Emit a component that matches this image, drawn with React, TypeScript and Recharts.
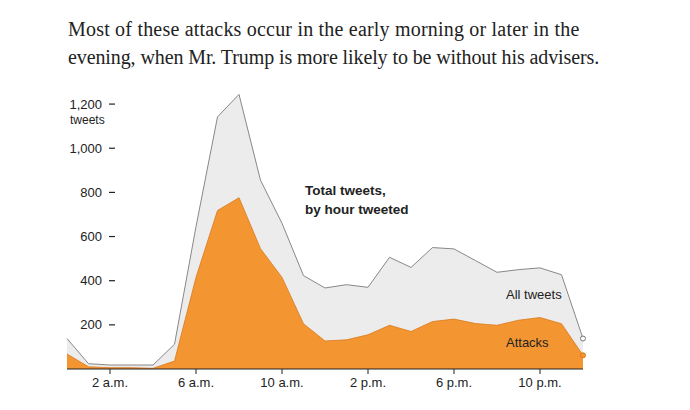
import { AreaChart, Area, XAxis, YAxis } from "recharts";

const hours = [0, 1, 2, 3, 4, 5, 6, 7, 8, 9, 10, 11, 12, 13, 14, 15, 16, 17, 18, 19, 20, 21, 22, 23, 24];
const allTweets = [138, 24, 18, 18, 18, 112, 645, 1142, 1244, 855, 660, 423, 367, 382, 370, 506, 460, 550, 544, 491, 438, 450, 458, 427, 138];
const attacks = [68, 10, 6, 6, 3, 36, 415, 718, 776, 545, 415, 205, 127, 132, 155, 198, 170, 215, 226, 206, 198, 221, 233, 205, 62];

const xTicks = [2, 6, 10, 14, 18, 22];
const xTickLabels = ["2 a.m.", "6 a.m.", "10 a.m.", "2 p.m.", "6 p.m.", "10 p.m."];
const yTicks = [200, 400, 600, 800, 1000, 1200];

const data = hours.map((h, i) => ({ hour: h, all: allTweets[i], attacks: attacks[i] }));

const SANS = "'Liberation Sans', Arial, sans-serif";
const ORANGE = "#f39632";

function YTick(props: any) {
  const { x, y, payload } = props;
  return (
    <g>
      <text x={x + 35} y={y} dy={4.5} textAnchor="end" fontSize={13} fill="#222" fontFamily={SANS}>
        {payload.value.toLocaleString("en-US")}
      </text>
      <line x1={x + 42} x2={x + 48} y1={y} y2={y} stroke="#222" strokeWidth={1.2} />
      {payload.value === 1200 && (
        <text x={x + 3} y={y + 20} fontSize={12} fill="#222" fontFamily={SANS}>
          tweets
        </text>
      )}
    </g>
  );
}

function endDot(fill: string, stroke: string) {
  return (props: any) => {
    const { cx, cy, index } = props;
    if (index !== hours.length - 1) return <g key={index} />;
    return <circle key={index} cx={cx} cy={cy} r={2.5} fill={fill} stroke={stroke} strokeWidth={1} />;
  };
}

export default function App() {
  return (
    <div style={{ position: "absolute", left: 0, top: 0, width: 690, height: 410, background: "#fff" }}>
      <div
        style={{
          position: "absolute",
          left: 68,
          top: 15,
          width: 620,
          fontFamily: "'Liberation Serif', 'Times New Roman', serif",
          fontSize: 20,
          lineHeight: "28px",
          color: "#222",
          whiteSpace: "nowrap",
        }}
      >
        <span style={{ letterSpacing: 0.2 }}>Most of these attacks occur in the early morning or later in the</span>
        <br />
        <span style={{ letterSpacing: -0.1 }}>evening, when Mr. Trump is more likely to be without his advisers.</span>
      </div>
      <AreaChart width={690} height={410} data={data} margin={{ top: 82, right: 107, bottom: 12, left: 32 }}>
        <XAxis
          dataKey="hour"
          type="number"
          domain={[0, 24]}
          ticks={xTicks}
          tickFormatter={(v: number) => xTickLabels[xTicks.indexOf(v)]}
          axisLine={{ stroke: "#222", strokeWidth: 1 }}
          tickLine={{ stroke: "#222" }}
          tickSize={5}
          tickMargin={4}
          height={29}
          tick={{ fontSize: 13, fill: "#222", fontFamily: SANS }}
        />
        <Area
          type="linear"
          dataKey="all"
          stroke="#888"
          strokeWidth={1}
          fill="#ececec"
          fillOpacity={1}
          dot={endDot("#fff", "#777")}
          activeDot={false}
          isAnimationActive={false}
        />
        <Area
          type="linear"
          dataKey="attacks"
          stroke="#d9791c"
          strokeWidth={0.8}
          fill={ORANGE}
          fillOpacity={1}
          dot={endDot(ORANGE, "#d9791c")}
          activeDot={false}
          isAnimationActive={false}
        />
        <YAxis
          domain={[0, 1300]}
          ticks={yTicks}
          width={35}
          axisLine={false}
          tickLine={false}
          tickSize={0}
          tickMargin={0}
          tick={<YTick />}
        />
      </AreaChart>
      <div
        style={{
          position: "absolute",
          left: 305,
          top: 181,
          fontFamily: SANS,
          fontWeight: 700,
          fontSize: 13.5,
          lineHeight: "19px",
          color: "#222",
        }}
      >
        Total tweets,
        <br />
        by hour tweeted
      </div>
      <div style={{ position: "absolute", left: 506, top: 287, fontFamily: SANS, fontSize: 13, color: "#222" }}>
        All tweets
      </div>
      <div style={{ position: "absolute", left: 506, top: 335, fontFamily: SANS, fontSize: 13, color: "#222" }}>
        Attacks
      </div>
    </div>
  );
}
